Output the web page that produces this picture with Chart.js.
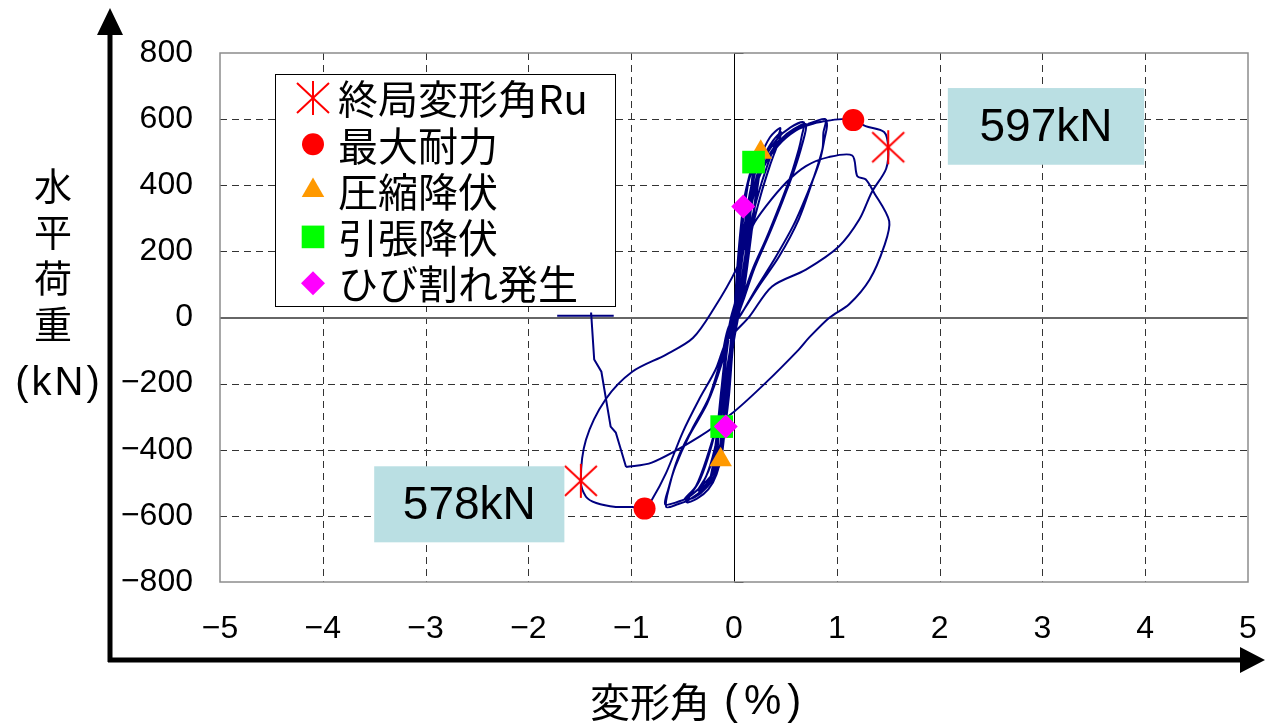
<!DOCTYPE html>
<html lang="ja">
<head>
<meta charset="utf-8">
<title>水平荷重－変形角関係</title>
<script src="https://cdn.jsdelivr.net/npm/chart.js@4.4.1/dist/chart.umd.min.js"></script>
<style>
  html, body { margin: 0; padding: 0; background: #fff; }
  #wrap { position: relative; width: 1265px; height: 724px; }
</style>
</head>
<body>
<div id="wrap"><canvas id="hysteresis"></canvas></div>
<script>
const CJK = '"Noto Sans CJK JP", sans-serif';
const LATIN = '"Liberation Sans", Arial, sans-serif';

// axis ranges (drift angle %, horizontal load kN)
const xRange = [-5, 5];
const yRange = [-800, 800];
const xStep = 1;
const yStep = 200;

// load-drift record, one array per loading cycle: [drift %, load kN]
const cycle1 = [[0, 0], [0.02, 100], [0.05, 220], [0.09, 336], [0.08, 250], [0.05, 130], [0.02, 20],
  [-0.02, -60], [-0.05, -180], [-0.08, -330], [-0.07, -240], [-0.04, -120], [-0.01, -20]];
const cycle2 = [[0.01, 40], [0.04, 180], [0.1, 360], [0.19, 470], [0.17, 400], [0.13, 250], [0.08, 110],
  [0.03, 0], [-0.02, -80], [-0.06, -230], [-0.11, -340], [-0.16, -420], [-0.15, -360], [-0.11, -220],
  [-0.06, -80], [-0.02, 0]];
const cycle2b = [[0.02, 50], [0.05, 190], [0.11, 370], [0.2, 465], [0.18, 390], [0.14, 240], [0.09, 100],
  [0.04, 0], [-0.01, -90], [-0.05, -240], [-0.1, -350], [-0.17, -415], [-0.16, -350], [-0.12, -210],
  [-0.07, -70], [-0.03, 0]];
const cycle3 = [[0.02, 60], [0.06, 230], [0.13, 400], [0.2, 465], [0.26, 500], [0.24, 440], [0.19, 320],
  [0.13, 170], [0.07, 40], [0.03, -10], [-0.04, -150], [-0.09, -310], [-0.15, -420], [-0.22, -482],
  [-0.2, -450], [-0.16, -350], [-0.11, -200], [-0.05, -60], [0, 0]];
const cycle4 = [[0.03, 70], [0.07, 240], [0.14, 410], [0.21, 475], [0.28, 510], [0.25, 440], [0.2, 330],
  [0.14, 180], [0.08, 50], [0.03, -10], [-0.03, -140], [-0.08, -300], [-0.14, -415], [-0.23, -488],
  [-0.21, -455], [-0.17, -360], [-0.12, -210], [-0.06, -70], [-0.01, 0]];
const cycle5 = [[0.04, 90], [0.1, 270], [0.17, 400], [0.25, 480], [0.35, 545], [0.45, 573], [0.42, 540],
  [0.37, 500], [0.27, 409], [0.18, 306], [0.1, 170], [0.04, 40], [-0.02, -60], [-0.08, -200], [-0.15, -350],
  [-0.23, -450], [-0.34, -530], [-0.26, -512], [-0.19, -480], [-0.14, -430], [-0.1, -330], [-0.06, -190],
  [-0.02, -50]];
const cycle5b = [[0.03, 60], [0.1, 240], [0.18, 380], [0.28, 480], [0.38, 535], [0.46, 560], [0.42, 520],
  [0.35, 460], [0.26, 370], [0.17, 260], [0.09, 120], [0.03, 10], [-0.04, -110], [-0.11, -270],
  [-0.19, -400], [-0.27, -480], [-0.35, -522], [-0.27, -505], [-0.2, -470], [-0.15, -420], [-0.11, -320],
  [-0.06, -170], [-0.02, -40]];
const cycle6 = [[0.03, 70], [0.09, 230], [0.17, 370], [0.28, 470], [0.42, 540], [0.55, 575], [0.68, 590],
  [0.66, 550], [0.63, 509], [0.55, 427], [0.44, 336], [0.31, 236], [0.18, 145], [0.08, 55], [0.02, -10],
  [-0.05, -120], [-0.13, -270], [-0.22, -390], [-0.33, -490], [-0.46, -558], [-0.36, -548], [-0.25, -520],
  [-0.17, -475], [-0.12, -400], [-0.08, -260], [-0.04, -110]];
const cycle6b = [[0.04, 80], [0.11, 240], [0.2, 380], [0.32, 480], [0.46, 540], [0.58, 570], [0.7, 585],
  [0.66, 520], [0.58, 440], [0.47, 350], [0.34, 250], [0.2, 150], [0.1, 60], [0.03, -5], [-0.06, -140],
  [-0.15, -300], [-0.26, -420], [-0.37, -510], [-0.48, -550], [-0.38, -543], [-0.27, -515], [-0.18, -470],
  [-0.13, -400], [-0.09, -270], [-0.04, -100]];
const cycle7 = [[0.01, 20], [0.06, 170], [0.13, 320], [0.24, 430], [0.38, 505], [0.54, 555], [0.72, 585],
  [0.89, 600], [0.87, 560], [0.86, 509], [0.76, 409], [0.63, 297], [0.44, 185], [0.24, 94], [0.05, 3],
  [-0.05, -27], [-0.12, -118], [-0.24, -239], [-0.41, -339], [-0.54, -421], [-0.63, -512], [-0.66, -573],
  [-0.55, -565], [-0.44, -552], [-0.27, -512], [-0.17, -470], [-0.12, -421], [-0.08, -300], [-0.05, -150],
  [-0.01, -20]];
const cycle7b = [[0.02, 40], [0.08, 200], [0.16, 340], [0.28, 450], [0.43, 520], [0.6, 565], [0.76, 585],
  [0.9, 592], [0.88, 540], [0.83, 470], [0.72, 380], [0.58, 280], [0.4, 180], [0.22, 90], [0.07, 10],
  [-0.04, -40], [-0.12, -140], [-0.26, -260], [-0.44, -360], [-0.57, -450], [-0.64, -520], [-0.67, -565],
  [-0.57, -560], [-0.45, -545], [-0.3, -505], [-0.19, -465], [-0.13, -410], [-0.09, -290], [-0.05, -140],
  [-0.01, -20]];
const cycle8 = [[0.04, 110], [0.1, 260], [0.18, 400], [0.24, 470], [0.37, 518], [0.51, 548], [0.66, 579],
  [0.89, 594], [1.05, 600], [1.16, 597], [1.28, 579], [1.46, 561], [1.5, 515], [1.48, 450], [1.34, 379],
  [1.22, 297], [1.02, 215], [0.7, 145], [0.37, 94], [0.15, 3], [0.02, -40], [-0.08, -76], [-0.18, -158],
  [-0.34, -248], [-0.5, -348], [-0.66, -470], [-0.8, -552], [-0.87, -578], [-0.99, -573], [-1.15, -573],
  [-1.34, -561], [-1.44, -542], [-1.49, -494]];
const cycle9 = [[-1.44, -370], [-1.25, -248], [-0.99, -164], [-0.66, -112], [-0.4, -62], [-0.2, 25],
  [0.02, 145], [0.18, 276], [0.31, 336], [0.51, 409], [0.7, 458], [0.92, 485], [1.15, 490], [1.2, 427],
  [1.28, 418], [1.36, 379], [1.51, 291], [1.46, 215], [1.32, 115], [1.12, 40], [0.93, 0], [0.73, -61],
  [0.63, -97], [0.31, -197], [0, -285], [-0.34, -361], [-0.8, -439], [-1.05, -452]];
// last stretch after the final reversal, recorded with coarse steps
const finalDrop = [[-1.05, -452], [-1.15, -348], [-1.2, -330], [-1.29, -164], [-1.36, -127], [-1.39, 15],
  [-1.39, 5], [-1.17, 5], [-1.72, 5]];

// characteristic points (positive side, negative side)
const ultimateDrift = [1.5, -1.49];
const ultimateLoad = [515, -494];
const maxDrift = [1.16, -0.87];
const maxLoad = [597, -578];
const compYieldDrift = [0.26, -0.13];
const compYieldLoad = [500, -430];
const tensYieldDrift = [0.19, -0.12];
const tensYieldLoad = [470, -330];
const crackDrift = [0.09, -0.08];
const crackLoad = [336, -330];

const seriesNames = ['終局変形角Ru', '最大耐力', '圧縮降伏', '引張降伏', 'ひび割れ発生'];

const toXY = pts => pts.map(([x, y]) => ({ x, y }));
const loopPoints = toXY([cycle1, cycle2, cycle2b, cycle3, cycle4, cycle5, cycle5b, cycle6, cycle6b,
  cycle7, cycle7b, cycle8, cycle9].flat());
const pairUp = (xs, ys) => xs.map((x, i) => ({ x, y: ys[i] }));

// six-armed asterisk used for the ultimate drift mark
function makeAsterisk() {
  const c = document.createElement('canvas');
  c.width = 36; c.height = 36;
  const g = c.getContext('2d');
  g.strokeStyle = '#ff0000';
  g.lineWidth = 2;
  g.beginPath();
  g.moveTo(18, 1); g.lineTo(18, 35);
  g.moveTo(2, 3); g.lineTo(34, 33);
  g.moveTo(34, 3); g.lineTo(2, 33);
  g.stroke();
  return c;
}
const asterisk = makeAsterisk();

const markerSets = [
  { label: seriesNames[0], data: pairUp(ultimateDrift, ultimateLoad), pointStyle: asterisk, radius: 17, color: '#ff0000', order: 5 },
  { label: seriesNames[1], data: pairUp(maxDrift, maxLoad), pointStyle: 'circle', radius: 11, color: '#ff0000', order: 4 },
  { label: seriesNames[2], data: pairUp(compYieldDrift, compYieldLoad), pointStyle: 'triangle', radius: 13, color: '#ff9900', order: 3 },
  { label: seriesNames[3], data: pairUp(tensYieldDrift, tensYieldLoad), pointStyle: 'rect', radius: 16, color: '#00ff00', order: 2 },
  { label: seriesNames[4], data: pairUp(crackDrift, crackLoad), pointStyle: 'rectRot', radius: 12, color: '#ff00ff', order: 1 }
];

const fmt = v => (v < 0 ? '\u2212' + Math.abs(v) : String(v));

const frame = {
  id: 'frame',
  beforeDatasetsDraw(chart) {
    const { ctx, chartArea: a, scales: { x, y } } = chart;
    ctx.save();
    ctx.lineWidth = 1;
    ctx.strokeStyle = '#333';
    ctx.setLineDash([7, 5]);
    ctx.beginPath();
    for (let v = xRange[0] + xStep; v < xRange[1]; v += xStep) {
      if (v === 0) continue;
      const px = Math.round(x.getPixelForValue(v)) + 0.5;
      ctx.moveTo(px, a.top); ctx.lineTo(px, a.bottom);
    }
    for (let v = yRange[0] + yStep; v < yRange[1]; v += yStep) {
      if (v === 0) continue;
      const py = Math.round(y.getPixelForValue(v)) + 0.5;
      ctx.moveTo(a.left, py); ctx.lineTo(a.right, py);
    }
    ctx.stroke();
    ctx.setLineDash([]);

    // zero axes with short tick marks
    const x0 = Math.round(x.getPixelForValue(0)) + 0.5;
    const y0 = Math.round(y.getPixelForValue(0));
    ctx.strokeStyle = '#000';
    ctx.beginPath();
    ctx.moveTo(x0, a.top); ctx.lineTo(x0, a.bottom);
    for (let v = yRange[0]; v <= yRange[1]; v += yStep) {
      const py = Math.round(y.getPixelForValue(v)) + 0.5;
      ctx.moveTo(x0, py); ctx.lineTo(x0 + 9, py);
    }
    ctx.stroke();
    ctx.strokeStyle = '#666';
    ctx.lineWidth = 2;
    ctx.beginPath();
    ctx.moveTo(a.left, y0); ctx.lineTo(a.right, y0);
    ctx.stroke();

    // plot frame
    ctx.strokeStyle = '#8c8c8c';
    ctx.lineWidth = 1.5;
    ctx.strokeRect(a.left, a.top, a.right - a.left, a.bottom - a.top);
    ctx.restore();
  },
  afterDraw(chart) {
    const { ctx, scales: { x, y } } = chart;
    ctx.save();

    // outer axis arrows
    ctx.fillStyle = '#000';
    ctx.strokeStyle = '#000';
    ctx.lineWidth = 5;
    ctx.beginPath();
    ctx.moveTo(110, 662); ctx.lineTo(110, 30);
    ctx.moveTo(108, 660); ctx.lineTo(1245, 660);
    ctx.stroke();
    ctx.beginPath();
    ctx.moveTo(110, 8); ctx.lineTo(123, 35); ctx.lineTo(97, 35); ctx.closePath();
    ctx.moveTo(1265, 660); ctx.lineTo(1240, 647); ctx.lineTo(1240, 673); ctx.closePath();
    ctx.fill();

    // axis titles
    ctx.textAlign = 'center';
    ctx.textBaseline = 'middle';
    ctx.font = '38px ' + CJK;
    ['水', '平', '荷', '重'].forEach((ch, i) => ctx.fillText(ch, 53, 186 + i * 46));
    ctx.font = '40px ' + LATIN;
    ctx.letterSpacing = '3px';
    ctx.fillText('(kN)', 59, 384);
    ctx.letterSpacing = '0px';
    ctx.textAlign = 'left';
    ctx.font = '40px ' + CJK;
    ctx.fillText('変形角', 590, 702);
    ctx.font = '42px ' + LATIN;
    ctx.letterSpacing = '6px';
    ctx.fillText('(%)', 724, 702);
    ctx.letterSpacing = '0px';
    ctx.textAlign = 'center';

    // value boxes for the maximum loads
    const boxes = [
      { x0: 2.08, x1: 3.99, y0: 694, y1: 462, i: 0 },
      { x0: -3.5, x1: -1.65, y0: -450, y1: -680, i: 1 }
    ];
    boxes.forEach(b => {
      const l = x.getPixelForValue(b.x0), r = x.getPixelForValue(b.x1);
      const t = y.getPixelForValue(b.y0), btm = y.getPixelForValue(b.y1);
      ctx.fillStyle = '#badfe3';
      ctx.fillRect(l, t, r - l, btm - t);
      ctx.fillStyle = '#000';
      ctx.font = '46px ' + LATIN;
      ctx.fillText(Math.abs(maxLoad[b.i]) + 'kN', (l + r) / 2, (t + btm) / 2 + 2);
    });

    // legend
    ctx.fillStyle = '#fff';
    ctx.fillRect(275, 74, 340, 232);
    ctx.strokeStyle = '#000';
    ctx.lineWidth = 1;
    ctx.strokeRect(275.5, 74.5, 340, 232);
    ctx.textAlign = 'left';
    ctx.font = '40px ' + CJK;
    markerSets.forEach((m, i) => {
      const cy = 98 + i * 46.3;
      ctx.fillStyle = m.color;
      ctx.strokeStyle = m.color;
      Chart.helpers.drawPoint(ctx, { pointStyle: m.pointStyle, radius: m.radius, rotation: 0, borderWidth: 0 }, 313, cy);
      ctx.fillStyle = '#000';
      ctx.fillText(m.label, 338, cy + 1);
    });
    ctx.restore();
  }
};

const loopStyle = { showLine: true, borderColor: '#000080', borderWidth: 2, pointRadius: 0, order: 10 };

new Chart(document.getElementById('hysteresis'), {
  type: 'scatter',
  data: {
    datasets: [
      { label: '履歴曲線', data: loopPoints, tension: 0.3, ...loopStyle },
      { label: '履歴曲線（終端）', data: toXY(finalDrop), tension: 0, ...loopStyle },
      ...markerSets.map(m => ({
        label: m.label,
        data: m.data,
        pointStyle: m.pointStyle,
        pointRadius: m.radius,
        pointBackgroundColor: m.color,
        pointBorderColor: m.color,
        pointBorderWidth: 0,
        showLine: false,
        order: m.order
      }))
    ]
  },
  options: {
    responsive: true,
    maintainAspectRatio: false,
    animation: false,
    layout: { padding: { top: 53, right: 16, left: 0, bottom: 0 } },
    plugins: { legend: { display: false }, tooltip: { enabled: false } },
    scales: {
      x: {
        type: 'linear',
        min: xRange[0], max: xRange[1],
        ticks: { stepSize: xStep, padding: 28, color: '#000', maxRotation: 0, autoSkip: false,
          font: { family: LATIN, size: 32 }, callback: v => fmt(v) },
        grid: { display: false, drawTicks: false },
        border: { display: false },
        afterFit: s => { s.height = 142; s.paddingLeft = 0; s.paddingRight = 0; }
      },
      y: {
        type: 'linear',
        min: yRange[0], max: yRange[1],
        ticks: { stepSize: yStep, padding: 27, color: '#000', autoSkip: false,
          font: { family: LATIN, size: 32 }, callback: v => fmt(v) },
        grid: { display: false, drawTicks: false },
        border: { display: false },
        afterFit: s => { s.width = 220; s.paddingTop = 0; s.paddingBottom = 0; }
      }
    }
  },
  plugins: [frame]
});
</script>
</body>
</html>
